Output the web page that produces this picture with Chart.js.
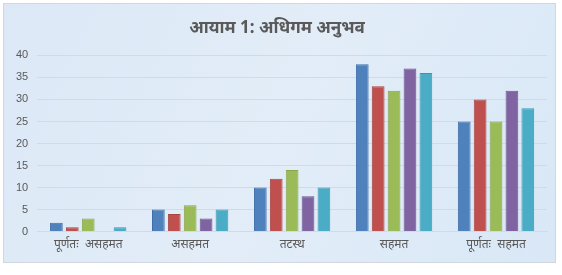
<!DOCTYPE html>
<html><head><meta charset="utf-8">
<script src="https://cdn.jsdelivr.net/npm/chart.js@4/dist/chart.umd.min.js"></script>
<style>html,body{margin:0;padding:0;background:#fff;}#wrap{position:relative;width:562px;height:275px;}</style>
</head><body><div id="wrap"><canvas id="c" width="562" height="275"></canvas></div>
<script>
const titleText = "आयाम 1: अधिगम अनुभव";
const categories = ["पूर्णतः  असहमत", "असहमत", "तटस्थ", "सहमत", "पूर्णतः  सहमत"];
const series1 = [2, 5, 10, 38, 25];
const series2 = [1, 4, 12, 33, 30];
const series3 = [3, 6, 14, 32, 25];
const series4 = [0, 3, 8, 37, 32];
const series5 = [1, 5, 10, 36, 28];
const yTicks = [0, 5, 10, 15, 20, 25, 30, 35, 40];
const colors = ["#4F81BD", "#C0504D", "#9BBB59", "#8064A2", "#4BACC6"];
const borders = ["#3f6fa8", "#a84441", "#87a64a", "#6c5390", "#3c98b1"];

const bgPlugin = {
  id: 'bg',
  beforeDraw(chart) {
    const ctx = chart.ctx;
    ctx.save();
    ctx.fillStyle = '#ffffff';
    ctx.fillRect(0, 0, chart.width, chart.height);
    const g = ctx.createLinearGradient(0, 0, 562, 262);
    g.addColorStop(0, '#dce8f6');
    g.addColorStop(0.5, '#e2edf8');
    g.addColorStop(1, '#d9e7f6');
    ctx.fillStyle = g;
    ctx.fillRect(3.5, 3.5, 552, 259);
    ctx.strokeStyle = '#d0d7df';
    ctx.lineWidth = 1;
    ctx.strokeRect(3.5, 3.5, 552, 259);
    ctx.restore();
  }
};

const sets = [series1, series2, series3, series4, series5].map((d, i) => ({
  label: 'S' + (i + 1),
  data: d,
  backgroundColor: colors[i],
  borderColor: borders[i],
  borderWidth: 1,
  categoryPercentage: 0.78,
  barPercentage: 0.8
}));

new Chart(document.getElementById('c'), {
  type: 'bar',
  data: { labels: categories, datasets: sets },
  plugins: [bgPlugin],
  options: {
    responsive: false,
    animation: false,
    devicePixelRatio: 1,
    layout: { padding: { left: 7, right: 15, top: 6, bottom: 17 } },
    plugins: {
      legend: { display: false },
      tooltip: { enabled: false },
      title: {
        display: true,
        text: titleText,
        color: '#595959',
        font: { family: "'Noto Sans', sans-serif", size: 17, weight: 'bold' },
        padding: { top: 12, bottom: 17 }
      }
    },
    scales: {
      x: {
        grid: { display: false, drawTicks: false },
        border: { display: true, color: '#d9d9d9' },
        ticks: { color: '#595959', font: { family: "'Noto Sans', sans-serif", size: 12 }, padding: 6, maxRotation: 0 }
      },
      y: {
        min: 0, max: 40,
        afterBuildTicks(axis) { axis.ticks = yTicks.map(v => ({ value: v })); },
        grid: { color: '#d9d9d9', drawTicks: false },
        border: { display: false },
        ticks: { color: '#595959', font: { family: "'Liberation Sans', sans-serif", size: 11 }, padding: 9 }
      }
    }
  }
});
</script></body></html>
